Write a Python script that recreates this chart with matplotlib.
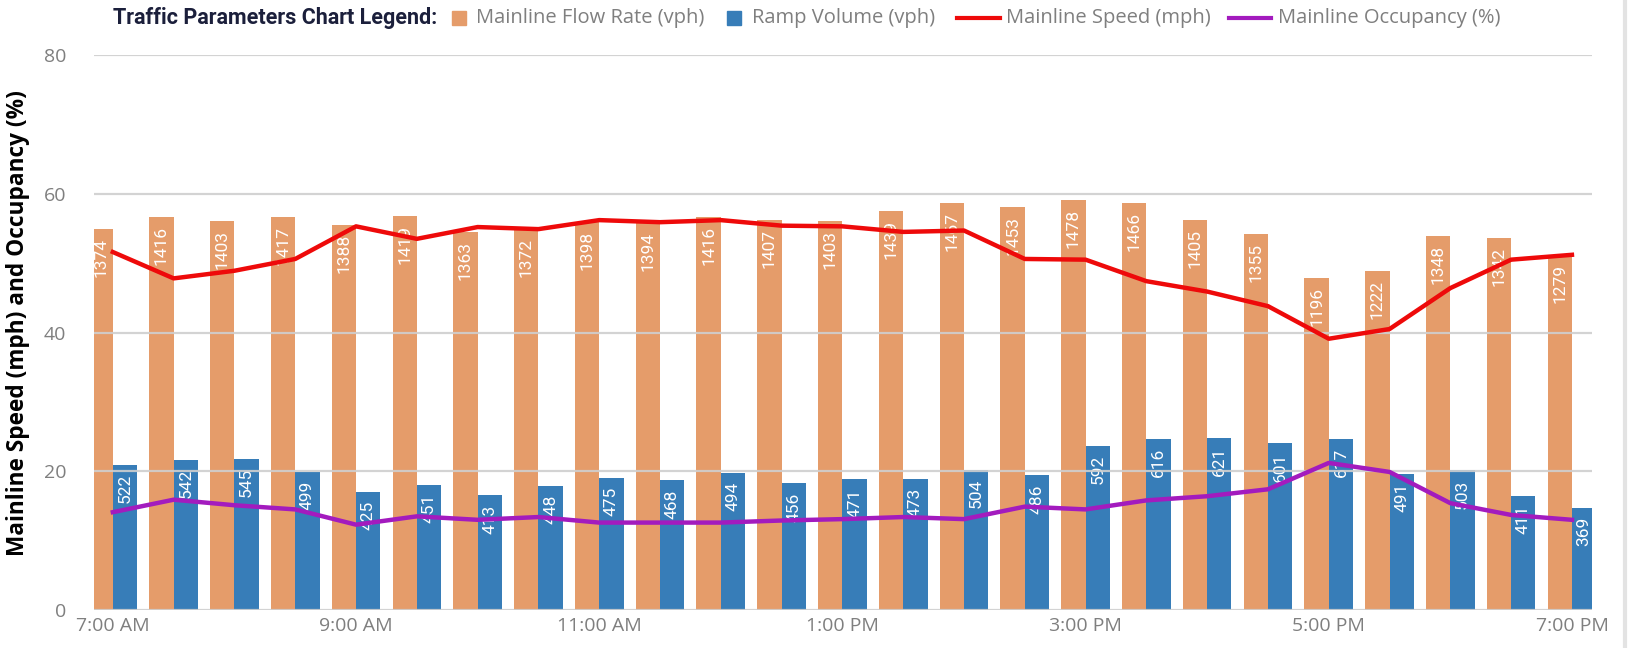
import numpy as np
import matplotlib
matplotlib.use('Agg')
import matplotlib.pyplot as plt
from matplotlib.patches import Rectangle
from matplotlib.lines import Line2D

# --- data (7:00 AM .. 7:00 PM, every 30 min) ---
times = ['7:00 AM', '7:30 AM', '8:00 AM', '8:30 AM', '9:00 AM', '9:30 AM', '10:00 AM', '10:30 AM',
         '11:00 AM', '11:30 AM', '12:00 PM', '12:30 PM', '1:00 PM', '1:30 PM', '2:00 PM', '2:30 PM',
         '3:00 PM', '3:30 PM', '4:00 PM', '4:30 PM', '5:00 PM', '5:30 PM', '6:00 PM', '6:30 PM', '7:00 PM']
flow_rate = [1374, 1416, 1403, 1417, 1388, 1419, 1363, 1372, 1398, 1394, 1416, 1407, 1403,
             1439, 1467, 1453, 1478, 1466, 1405, 1355, 1196, 1222, 1348, 1342, 1279]
ramp_volume = [522, 542, 545, 499, 425, 451, 413, 448, 475, 468, 494, 456, 471,
               473, 504, 486, 592, 616, 621, 601, 617, 491, 503, 411, 369]
speed = [51.6, 47.8, 48.9, 50.6, 55.3, 53.5, 55.2, 54.9, 56.2, 55.9, 56.2, 55.4, 55.3,
         54.5, 54.7, 50.6, 50.5, 47.4, 45.9, 43.8, 39.1, 40.5, 46.4, 50.5, 51.2]
occupancy = [14.1, 15.9, 15.1, 14.5, 12.3, 13.5, 13.0, 13.4, 12.6, 12.6, 12.6, 12.9, 13.1,
             13.4, 13.1, 14.9, 14.5, 15.8, 16.4, 17.4, 21.2, 19.9, 15.4, 13.7, 13.0]

ORANGE = '#E59C6A'
BLUE = '#377DB8'
RED = '#EE0A0A'
PURPLE = '#A31BBE'
GRAY = '#7F7F7F'
W, H = 1628, 648

fig = plt.figure(figsize=(W / 100, H / 100), dpi=100)
ax = fig.add_axes([94 / W, 38 / H, (1592 - 94) / W, (610 - 55) / H])
ax2 = ax.twinx()  # hidden axis for the vph bars

x = np.arange(len(times))
w = 0.40
b1 = ax2.bar(x - w / 2, flow_rate, w, color=ORANGE, zorder=2)
b2 = ax2.bar(x + w / 2, ramp_volume, w, color=BLUE, zorder=2)
for bars, vals in [(b1, flow_rate), (b2, ramp_volume)]:
    for rect, v in zip(bars, vals):
        ax2.annotate(str(v), (rect.get_x() + rect.get_width() / 2, rect.get_height()),
                     xytext=(0, -6.5), textcoords='offset points', rotation=90,
                     ha='center', va='top', color='white', fontsize=12.5,
                     family='Roboto', zorder=3)
ax2.set_ylim(0, 2000)
ax2.axis('off')

# lines + grid on top of the bars
ax.set_zorder(ax2.get_zorder() + 1)
ax.patch.set_visible(False)
ax.plot(x, speed, color=RED, lw=3.2, solid_joinstyle='round', zorder=4)
ax.plot(x, occupancy, color=PURPLE, lw=3.2, solid_joinstyle='round', zorder=4)

ax.set_ylim(0, 80)
ax.set_yticks([0, 20, 40, 60, 80])
ax.set_xlim(-0.31, len(times) - 1 + 0.33)
ax.set_xticks(x[::4])
ax.set_xticklabels(times[::4])
ax.grid(axis='y', color='#CFCFCF', lw=1.6, alpha=0.9)
ax.tick_params(length=0, labelsize=14, labelcolor=GRAY, pad=5)
ax.tick_params(axis='y', pad=20)
for lab in ax.get_xticklabels() + ax.get_yticklabels():
    lab.set_family('Open Sans')
for s in ax.spines.values():
    s.set_visible(False)

fig.text(18 / W, 0.502, 'Mainline Speed (mph) and Occupancy (%)', rotation=90,
         ha='center', va='center', fontsize=16.3, fontweight='bold', family='Open Sans', color='black')

# legend strip along the top (placed by hand to follow the original spacing)
ly = 1 - 18 / H
fig.text(437 / W, ly, 'Traffic Parameters Chart Legend:', ha='right', va='center',
         fontsize=15.5, fontweight='bold', family='Roboto', color='#1B1F3B')
legend_items = [('patch', ORANGE, 452, 466, 476, 'Mainline Flow Rate (vph)'),
                ('patch', BLUE, 727, 741, 752, 'Ramp Volume (vph)'),
                ('line', RED, 957, 1000, 1006, 'Mainline Speed (mph)'),
                ('line', PURPLE, 1229, 1271, 1278, 'Mainline Occupancy (%)')]
for kind, col, x0, x1, tx, name in legend_items:
    if kind == 'patch':
        fig.add_artist(Rectangle((x0 / W, ly - 7 / H), (x1 - x0) / W, 14 / H,
                                 transform=fig.transFigure, color=col))
    else:
        fig.add_artist(Line2D([x0 / W, x1 / W], [ly, ly], transform=fig.transFigure,
                              color=col, lw=3))
    fig.text(tx / W, ly, name, ha='left', va='center', fontsize=14.5,
             family='Open Sans', color=GRAY)

# thin border line on the right edge
fig.add_artist(Line2D([1624.5 / W, 1624.5 / W], [0, 1], transform=fig.transFigure,
                      color='#E3E3E3', lw=3))

fig.savefig('out.png', dpi=100)
